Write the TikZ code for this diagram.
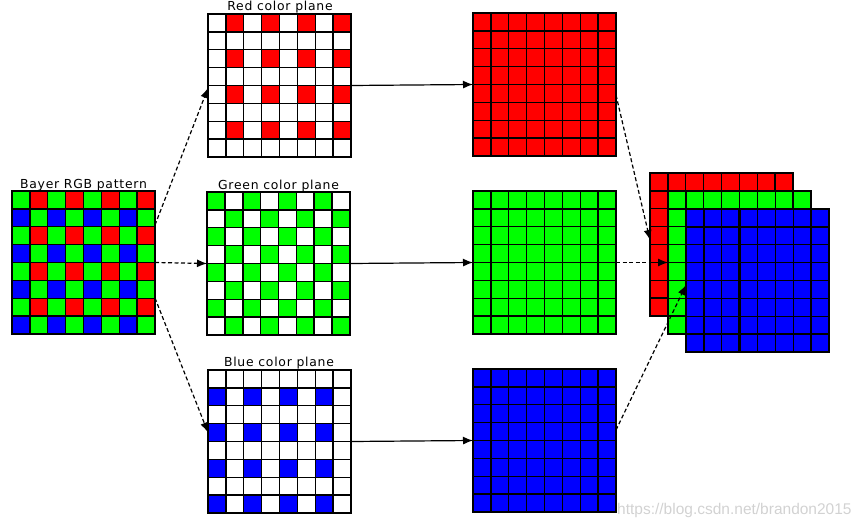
\documentclass[tikz,border=0pt]{standalone}
\usepackage{fontspec}
\setmainfont{DejaVu Sans}[LetterSpace=6]
\newfontfamily\wmfont{Liberation Sans}
\usetikzlibrary{arrows.meta,calc}
\definecolor{rR}{RGB}{255,0,0}
\definecolor{gG}{RGB}{0,255,0}
\definecolor{bB}{RGB}{0,0,255}
\def\cs{17.875}
\tikzset{
 gridbox/.style={rectangle, minimum width=143pt, minimum height=143pt, inner sep=0pt, outer sep=0pt},
 title/.style={anchor=base, inner sep=0pt, font=\fontsize{12.4}{14}\selectfont},
 gline/.style={line width=1.4pt, black, line cap=rect},
 dasharrow/.style={line width=1.2pt, dash pattern=on 4pt off 2.5pt, -{Latex[length=10pt,width=8pt]}},
 solidarrow/.style={line width=1.2pt, -{Latex[length=10pt,width=8pt]}},
}
\newcommand{\cellfill}[4]{\fill[#4] ($(#1.north west)+(#3*\cs,#2*\cs)$) rectangle ++(\cs,\cs);}
\newcommand{\gridlines}[1]{%
 \foreach \i in {0,...,8}{
  \draw[gline] ($(#1.north west)+(\i*\cs,0)$) -- ++(0,143);
  \draw[gline] ($(#1.north west)+(0,\i*\cs)$) -- ++(143,0);}}
\newcommand{\solidfill}[2]{\fill[#2] (#1.north west) rectangle (#1.south east);}
\begin{document}
\begin{tikzpicture}[x=1pt,y=-1pt]
\useasboundingbox (0,0) rectangle (865,527);
% grid nodes
\node[gridbox] (bayer) at (83.5,262.5) {};
\node[gridbox] (redp) at (279.5,85.5) {};
\node[gridbox] (greenp) at (278.5,263.5) {};
\node[gridbox] (bluep) at (279.5,441.5) {};
\node[gridbox] (redf) at (544.5,84.5) {};
\node[gridbox] (greenf) at (544.5,262.5) {};
\node[gridbox] (bluef) at (544.5,440.5) {};
\node[gridbox] (sred) at (721.5,244.5) {};
\node[gridbox] (sgreen) at (739.5,262.5) {};
\node[gridbox] (sblue) at (757.5,280.5) {};
% Bayer pattern
\solidfill{bayer}{gG}
\foreach \r in {0,2,4,6}{\foreach \c in {1,3,5,7}{\cellfill{bayer}{\r}{\c}{rR}}}
\foreach \r in {1,3,5,7}{\foreach \c in {0,2,4,6}{\cellfill{bayer}{\r}{\c}{bB}}}
\gridlines{bayer}
% Red plane
\foreach \r in {0,2,4,6}{\foreach \c in {1,3,5,7}{\cellfill{redp}{\r}{\c}{rR}}}
\gridlines{redp}
% Green plane
\foreach \r in {0,2,4,6}{\foreach \c in {0,2,4,6}{\cellfill{greenp}{\r}{\c}{gG}}}
\foreach \r in {1,3,5,7}{\foreach \c in {1,3,5,7}{\cellfill{greenp}{\r}{\c}{gG}}}
\gridlines{greenp}
\foreach \i in {2,6}{\draw[line width=2.4pt] ($(greenp.north west)+(\i*\cs,0)$) -- ++(0,143);}
% Blue plane
\foreach \r in {1,3,5,7}{\foreach \c in {0,2,4,6}{\cellfill{bluep}{\r}{\c}{bB}}}
\gridlines{bluep}
% Full planes
\solidfill{redf}{rR}\gridlines{redf}
\solidfill{greenf}{gG}\gridlines{greenf}
\solidfill{bluef}{bB}\gridlines{bluef}
% Stack
\solidfill{sred}{rR}\gridlines{sred}
\solidfill{sgreen}{gG}\gridlines{sgreen}
\solidfill{sblue}{bB}\gridlines{sblue}
\draw[line width=2.4pt] ($(sblue.north west)+(3*\cs,0)$) -- ++(0,143);
% Titles
\node[title] (tbayer) at (83.5,188) {Bayer RGB pattern};
\node[title] (tred) at (280,11) {Red color plane};
\node[title] (tgreen) at (278.5,189) {Green color plane};
\node[title] (tblue) at (279,366.5) {Blue color plane};
% Arrows
\draw[dasharrow] ([yshift=37.5pt]bayer.east) -- ([yshift=-2.5pt]redp.west);
\draw[dasharrow] (bayer.east) -- (greenp.west);
\draw[dasharrow] ([yshift=-35.5pt]bayer.east) -- ([yshift=9pt]bluep.west);
\draw[solidarrow] (redp.east) -- (redf.west);
\draw[solidarrow] (greenp.east) -- (greenf.west);
\draw[solidarrow] (bluep.east) -- (bluef.west);
\draw[dasharrow] ([yshift=-10.5pt]redf.east) -- ([yshift=4.5pt]sred.west);
\draw[dasharrow] (greenf.east) -- (sgreen.west);
\draw[dasharrow] ([yshift=10.5pt]bluef.east) -- ([yshift=-4.5pt]sblue.west);
% Watermark
\node[anchor=base west, inner sep=0pt, font=\wmfont\fontsize{15.5}{18}\selectfont, text=gray!35] (wm) at (617,514.5) {https://blog.csdn.net/brandon2015};
\end{tikzpicture}
\end{document}
